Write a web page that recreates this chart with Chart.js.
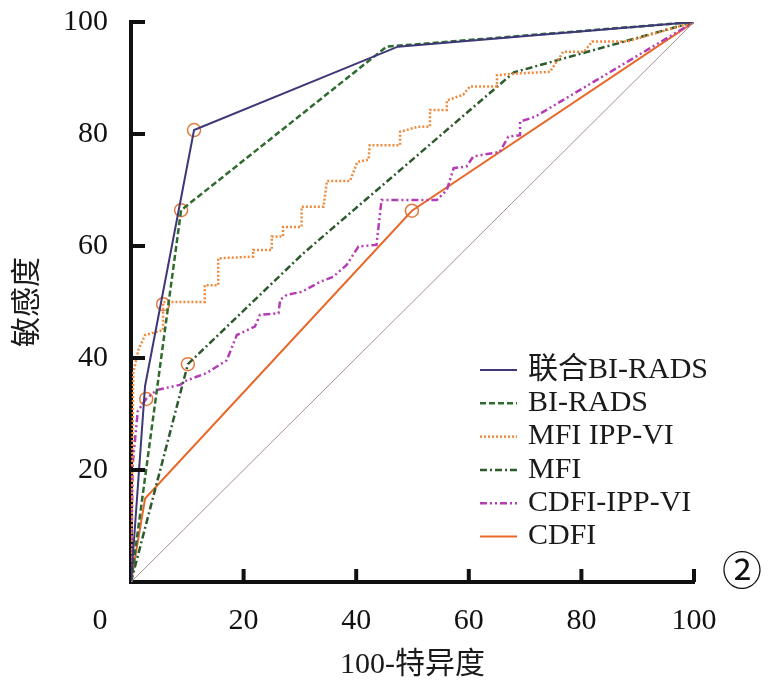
<!DOCTYPE html>
<html>
<head>
<meta charset="utf-8">
<script src="https://cdn.jsdelivr.net/npm/chart.js@4.4.1/dist/chart.umd.min.js"></script>
<style>
  html, body { margin: 0; padding: 0; background: #fff; }
  canvas { display: block; }
</style>
</head>
<body>
<canvas id="roc" width="769" height="697"></canvas>
<script>
// --- ROC data (x = 100-特异度, y = 敏感度) ---
const xTicks = [0, 20, 40, 60, 80, 100];
const yTicks = [20, 40, 60, 80, 100];

const combX = [0, 2.5, 11.2, 47.4, 100];
const combY = [0, 35, 80.7, 95.6, 100];

const biX = [0, 8.9, 45.4, 100];
const biY = [0, 66.4, 95.6, 100];

const mfiIppX = [0, 0.4, 1.3, 2.5, 5.7, 5.7, 13.1, 13.1, 15.5, 15.5, 21.7, 21.7, 25, 25, 27, 27, 30.3, 30.3, 34.2, 34.8, 38.9, 40.2, 42.2, 42.4, 47.8, 47.8, 51, 53.1, 53.1, 56.1, 56.1, 59, 60.2, 65, 65, 68.5, 74.4, 76.8, 80.5, 81.9, 88.1, 100];
const mfiIppY = [0, 37.3, 41.4, 44.1, 45, 50, 50, 53, 53, 57.8, 58.1, 59.3, 59.3, 61.7, 61.7, 63.4, 63.4, 67, 67, 71.6, 71.6, 75, 75.4, 78, 78, 80.4, 81.3, 81.3, 84.3, 84.3, 86, 87, 88.5, 88.5, 90.5, 90.8, 91.1, 94.7, 94.7, 96.5, 96.5, 100];

const mfiX = [0, 10.1, 30.5, 68, 100];
const mfiY = [0, 38.9, 58.6, 91, 100];

const cdIppX = [0, 0.3, 1.2, 2.7, 4.6, 8.7, 9.9, 13.4, 17, 18.8, 22, 22.9, 26.2, 26.5, 27.7, 30.3, 33.6, 35.9, 38.3, 40.4, 43.6, 44.5, 54.3, 56.1, 57.3, 59.6, 60.8, 65.5, 67, 69.1, 69.1, 71.8, 100];
const cdIppY = [0, 21, 30.5, 32.7, 34.3, 35.2, 36, 37.3, 39.6, 44.1, 45.6, 47.7, 48, 50.4, 51.3, 51.8, 53.6, 54.5, 56.6, 59.9, 60.2, 68.2, 68.2, 70, 73.9, 74.2, 76, 76.8, 79.5, 79.8, 82.2, 83.1, 100];

const cdX = [0, 2.5, 49.9, 100];
const cdY = [0, 14.9, 66.3, 100];

const refX = [0, 100];
const refY = [0, 100];

// cut-off points (open circles)
const cutX = [11.2, 8.9, 5.7, 10.1, 2.7, 49.9];
const cutY = [80.7, 66.4, 49.6, 38.9, 32.7, 66.3];

const pts = (xs, ys) => xs.map((x, i) => ({ x: x, y: ys[i] }));

const serif = "'Liberation Serif', 'Noto Sans CJK SC', serif";

const series = [
    { label: '联合BI-RADS', data: pts(combX, combY), borderColor: '#3e3878', borderWidth: 2, borderDash: [] },
    { label: 'BI-RADS', data: pts(biX, biY), borderColor: '#2f6b2f', borderWidth: 2.5, borderDash: [6, 3] },
    { label: 'MFI IPP-VI', data: pts(mfiIppX, mfiIppY), borderColor: '#ef8a3c', borderWidth: 2.5, borderDash: [2, 2] },
    { label: 'MFI', data: pts(mfiX, mfiY), borderColor: '#2c5a2c', borderWidth: 2.5, borderDash: [7, 3, 2, 3] },
    { label: 'CDFI-IPP-VI', data: pts(cdIppX, cdIppY), borderColor: '#b43cb4', borderWidth: 2.5, borderDash: [7, 3, 2, 3, 2, 3] },
    { label: 'CDFI', data: pts(cdX, cdY), borderColor: '#e8682a', borderWidth: 2, borderDash: [] }
];

const datasets = series.map(s => Object.assign({ showLine: true, pointRadius: 0, tension: 0, fill: false, inLegend: true }, s));
datasets.unshift({ label: 'ref', data: pts(refX, refY), showLine: true, pointRadius: 0, borderColor: '#a89090', borderWidth: 1 });
datasets.push({ label: 'cut', data: pts(cutX, cutY), showLine: false, pointRadius: 6.5, pointBackgroundColor: '#fff', pointBorderColor: '#e27a3e', pointBorderWidth: 1.5 });

// inward ticks, origin label, legend and panel mark
const extras = {
    id: 'extras',
    afterDraw(chart) {
        const ctx = chart.ctx;
        const xs = chart.scales.x, ys = chart.scales.y;
        const area = chart.chartArea;
        ctx.save();
        ctx.strokeStyle = '#111';
        ctx.lineWidth = 4;
        xTicks.slice(1).forEach(v => {
            const px = xs.getPixelForValue(v);
            ctx.beginPath(); ctx.moveTo(px, area.bottom); ctx.lineTo(px, area.bottom - 13); ctx.stroke();
        });
        yTicks.forEach(v => {
            const py = ys.getPixelForValue(v);
            ctx.beginPath(); ctx.moveTo(area.left, py); ctx.lineTo(area.left + 14, py); ctx.stroke();
        });

        ctx.fillStyle = '#111';
        ctx.font = '30px ' + serif;
        ctx.textAlign = 'center';
        ctx.textBaseline = 'middle';
        ctx.fillText('0', xs.getPixelForValue(0) - 31, 621);

        // legend
        let y = 370;
        chart.data.datasets.filter(d => d.inLegend).forEach(d => {
            ctx.strokeStyle = d.borderColor;
            ctx.lineWidth = d.borderWidth;
            ctx.setLineDash(d.borderDash);
            ctx.beginPath(); ctx.moveTo(480, y); ctx.lineTo(517, y); ctx.stroke();
            ctx.setLineDash([]);
            ctx.fillStyle = '#1a1a1a';
            ctx.textAlign = 'left';
            ctx.fillText(d.label, 528, y);
            y += 33.3;
        });

        ctx.font = "40px 'Noto Sans CJK SC'";
        ctx.textAlign = 'center';
        ctx.fillStyle = '#111';
        ctx.fillText('②', 742, 570);
        ctx.restore();
    }
};

new Chart(document.getElementById('roc'), {
    type: 'scatter',
    data: { datasets: datasets },
    options: {
        responsive: false,
        animation: false,
        devicePixelRatio: 1,
        layout: { padding: { top: 22, right: 75, left: 0, bottom: 0 } },
        plugins: { legend: { display: false }, tooltip: { enabled: false } },
        scales: {
            x: {
                type: 'linear', min: 0, max: 100,
                afterFit: s => { s.height = 115; s.paddingLeft = 0; s.paddingRight = 0; },
                afterBuildTicks: s => { s.ticks = xTicks.map(v => ({ value: v })); },
                ticks: { color: '#111', padding: 21, font: { family: serif, size: 30 }, callback: v => (v === 0 ? '' : v) },
                grid: { display: false, drawTicks: false },
                border: { display: true, width: 4, color: '#111' },
                title: { display: true, text: '100-特异度', color: '#1a1a1a', font: { family: serif, size: 30 }, padding: { top: 0, bottom: 14 } }
            },
            y: {
                type: 'linear', min: 0, max: 100,
                afterFit: s => { s.width = 131; s.paddingTop = 0; s.paddingBottom = 0; },
                afterBuildTicks: s => { s.ticks = yTicks.map(v => ({ value: v })); },
                ticks: { color: '#111', padding: 23, font: { family: serif, size: 30 } },
                grid: { display: false, drawTicks: false },
                border: { display: true, width: 4, color: '#111' },
                title: { display: true, text: '敏感度', color: '#1a1a1a', font: { family: serif, size: 30 }, padding: { top: 10, bottom: 0 } }
            }
        }
    },
    plugins: [extras]
});
</script>
</body>
</html>
